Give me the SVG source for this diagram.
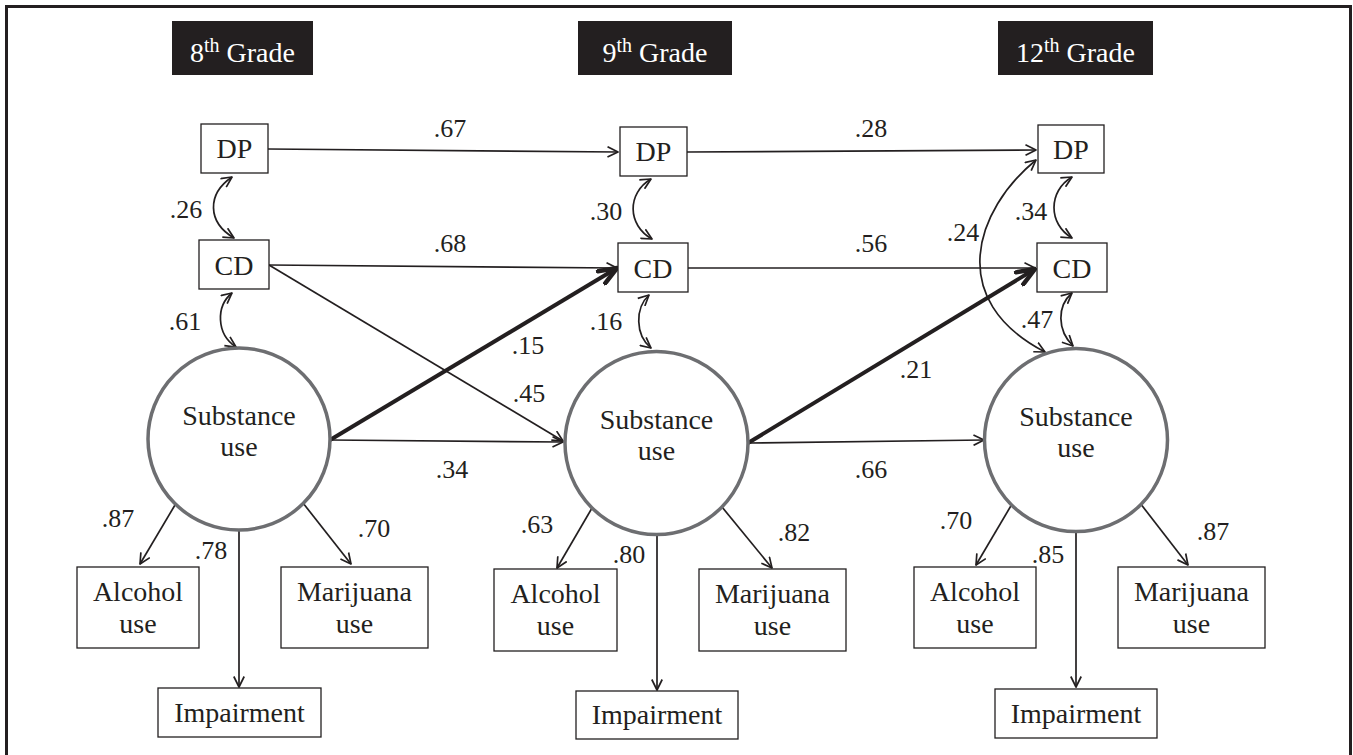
<svg xmlns="http://www.w3.org/2000/svg" width="1353" height="755" viewBox="0 0 1353 755">
<style>
text{font-family:"Liberation Serif","Times New Roman",serif;fill:#231f20}
.lbl{font-size:26px;text-anchor:middle}
.nt{font-size:28px;text-anchor:middle}
.hd{font-size:28px;text-anchor:middle;fill:#fff}
.box{fill:#fff;stroke:#231f20;stroke-width:1.3}
.hbox{fill:#231f20}
.circ{fill:#fff;stroke:#6d6e71;stroke-width:3.5}
.ln{fill:none;stroke:#231f20;stroke-width:1.7;marker-end:url(#ah)}
.dbl{fill:none;stroke:#231f20;stroke-width:1.7;marker-start:url(#ah);marker-end:url(#ah)}
.thk{fill:none;stroke:#231f20;stroke-width:4;marker-end:url(#ahT)}
</style>
<defs>
<marker id="ah" viewBox="0 0 12 12" refX="11" refY="6" markerUnits="userSpaceOnUse" markerWidth="12" markerHeight="12" orient="auto-start-reverse">
<path d="M0.5,0.8 L11,6 L0.5,11.2" fill="none" stroke="#231f20" stroke-width="1.7" stroke-linejoin="round"/>
</marker>
<marker id="ahT" viewBox="0 0 22 18" refX="20" refY="9" markerUnits="userSpaceOnUse" markerWidth="22" markerHeight="18" orient="auto">
<path d="M2,2 L20,9 L2,16" fill="none" stroke="#231f20" stroke-width="4.5" stroke-linejoin="round" stroke-linecap="round"/>
</marker>
</defs>
<rect width="1353" height="755" fill="#fff"/>
<path d="M6.5,755 V6.5 H1350.5 V755" fill="none" stroke="#231f20" stroke-width="3"/>

<g id="headers">
<g id="h8"><rect class="hbox" x="172" y="21" width="141" height="54"/><text class="hd" x="242.5" y="62">8<tspan font-size="20" dy="-10">th</tspan><tspan dy="10"> Grade</tspan></text></g>
<g id="h9"><rect class="hbox" x="578" y="21" width="154" height="54"/><text class="hd" x="655" y="62">9<tspan font-size="20" dy="-10">th</tspan><tspan dy="10"> Grade</tspan></text></g>
<g id="h12"><rect class="hbox" x="998" y="21" width="155" height="54"/><text class="hd" x="1075.5" y="62">12<tspan font-size="20" dy="-10">th</tspan><tspan dy="10"> Grade</tspan></text></g>
</g>

<g id="connectors">
<line class="ln" x1="268" y1="149" x2="618" y2="152"/>
<line class="ln" x1="687" y1="152" x2="1036" y2="150"/>
<line class="ln" x1="269" y1="265" x2="617" y2="268"/>
<line class="ln" x1="688" y1="268" x2="1035" y2="268"/>
<line class="ln" x1="269" y1="265" x2="563" y2="441"/>
<line class="ln" x1="330" y1="440" x2="563" y2="442"/>
<line class="ln" x1="748" y1="443" x2="984" y2="440"/>
<line class="thk" x1="330" y1="440" x2="617" y2="268"/>
<line class="thk" x1="748" y1="443" x2="1035" y2="269"/>
<path class="dbl" d="M232,177 C207,194 207,222 234,238"/>
<path class="dbl" d="M232,293 C216,306 216,334 236,347"/>
<path class="dbl" d="M651,179 C627,193 627,225 652,239"/>
<path class="dbl" d="M649,295 C635,308 635,335 651,348"/>
<path class="dbl" d="M1072,177 C1048,191 1048,224 1072,238"/>
<path class="dbl" d="M1072,293 C1057,306 1057,330 1073,346"/>
<path class="dbl" d="M1036,160 C975,210 945,300 1045,352"/>
<line class="ln" x1="175" y1="505" x2="140" y2="564"/>
<line class="ln" x1="239" y1="530" x2="239" y2="687"/>
<line class="ln" x1="303" y1="503" x2="351" y2="564"/>
<line class="ln" x1="592" y1="508" x2="557" y2="568"/>
<line class="ln" x1="657" y1="534" x2="657" y2="690"/>
<line class="ln" x1="722" y1="507" x2="772" y2="568"/>
<line class="ln" x1="1012" y1="504" x2="976" y2="565"/>
<line class="ln" x1="1076" y1="532" x2="1076" y2="687"/>
<line class="ln" x1="1140" y1="503" x2="1188" y2="565"/>
</g>

<g id="labels">
<text class="lbl" x="450" y="137">.67</text>
<text class="lbl" x="450" y="252">.68</text>
<text class="lbl" x="871" y="137">.28</text>
<text class="lbl" x="871" y="252">.56</text>
<text class="lbl" x="186" y="218">.26</text>
<text class="lbl" x="185" y="330">.61</text>
<text class="lbl" x="606" y="220">.30</text>
<text class="lbl" x="606" y="330">.16</text>
<text class="lbl" x="1031" y="220">.34</text>
<text class="lbl" x="963" y="241">.24</text>
<text class="lbl" x="1037" y="328">.47</text>
<text class="lbl" x="916" y="378">.21</text>
<text class="lbl" x="528" y="354">.15</text>
<text class="lbl" x="529" y="402">.45</text>
<text class="lbl" x="452" y="478">.34</text>
<text class="lbl" x="871" y="478">.66</text>
<text class="lbl" x="118" y="527">.87</text>
<text class="lbl" x="211" y="559">.78</text>
<text class="lbl" x="374" y="537">.70</text>
<text class="lbl" x="537" y="533">.63</text>
<text class="lbl" x="629" y="563">.80</text>
<text class="lbl" x="794" y="541">.82</text>
<text class="lbl" x="956" y="529">.70</text>
<text class="lbl" x="1048" y="563">.85</text>
<text class="lbl" x="1213" y="540">.87</text>
</g>

<g id="dp8"><rect class="box" x="201" y="124" width="67" height="49"/><text class="nt" x="234.5" y="158">DP</text></g>
<g id="cd8"><rect class="box" x="199" y="240" width="70" height="49"/><text class="nt" x="234" y="275">CD</text></g>
<g id="dp9"><rect class="box" x="620" y="127" width="67" height="49"/><text class="nt" x="653.5" y="161">DP</text></g>
<g id="cd9"><rect class="box" x="618" y="243" width="70" height="49"/><text class="nt" x="653" y="278">CD</text></g>
<g id="dp12"><rect class="box" x="1038" y="125" width="66" height="48"/><text class="nt" x="1071" y="159">DP</text></g>
<g id="cd12"><rect class="box" x="1037" y="243" width="70" height="49"/><text class="nt" x="1072" y="278">CD</text></g>

<g id="su8"><circle class="circ" cx="239" cy="439" r="91"/><text class="nt" x="239" y="425">Substance</text><text class="nt" x="239" y="456">use</text></g>
<g id="su9"><circle class="circ" cx="656.5" cy="443" r="91.5"/><text class="nt" x="656.5" y="429">Substance</text><text class="nt" x="656.5" y="460">use</text></g>
<g id="su12"><circle class="circ" cx="1076" cy="440" r="91.5"/><text class="nt" x="1076" y="426">Substance</text><text class="nt" x="1076" y="457">use</text></g>

<g id="al8"><rect class="box" x="77" y="567" width="122" height="81"/><text class="nt" x="138" y="601">Alcohol</text><text class="nt" x="138" y="633">use</text></g>
<g id="im8"><rect class="box" x="158" y="688" width="163" height="49"/><text class="nt" x="239.5" y="722">Impairment</text></g>
<g id="mj8"><rect class="box" x="281" y="567" width="147" height="81"/><text class="nt" x="354.5" y="601">Marijuana</text><text class="nt" x="354.5" y="633">use</text></g>

<g id="al9"><rect class="box" x="494" y="569" width="123" height="82"/><text class="nt" x="555.5" y="603">Alcohol</text><text class="nt" x="555.5" y="635">use</text></g>
<g id="im9"><rect class="box" x="576" y="691" width="162" height="48"/><text class="nt" x="657" y="724">Impairment</text></g>
<g id="mj9"><rect class="box" x="699" y="569" width="147" height="82"/><text class="nt" x="772.5" y="603">Marijuana</text><text class="nt" x="772.5" y="635">use</text></g>

<g id="al12"><rect class="box" x="914" y="567" width="122" height="81"/><text class="nt" x="975" y="601">Alcohol</text><text class="nt" x="975" y="633">use</text></g>
<g id="im12"><rect class="box" x="995" y="689" width="162" height="49"/><text class="nt" x="1076" y="723">Impairment</text></g>
<g id="mj12"><rect class="box" x="1118" y="567" width="147" height="81"/><text class="nt" x="1191.5" y="601">Marijuana</text><text class="nt" x="1191.5" y="633">use</text></g>
</svg>
